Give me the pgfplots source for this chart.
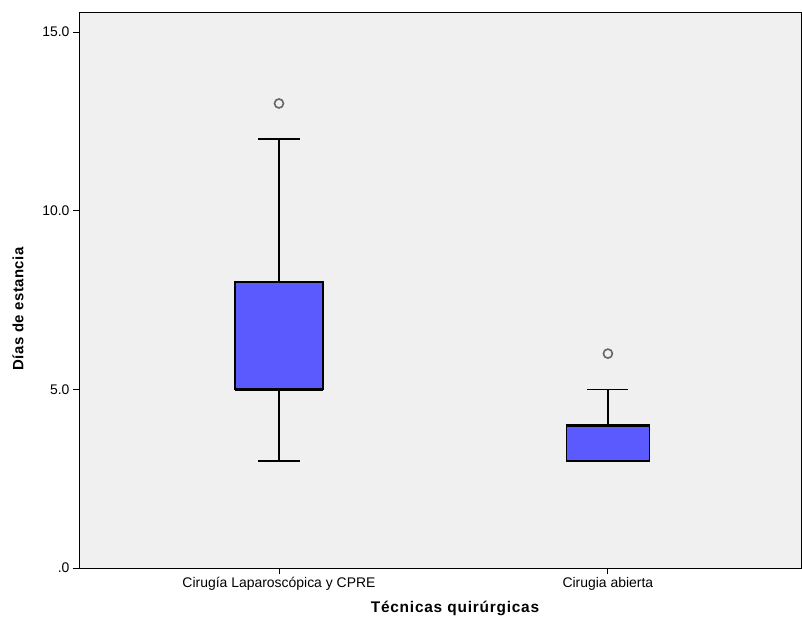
\documentclass[border=0pt]{standalone}
\usepackage{fontspec}
\setmainfont{Liberation Sans}
\newfontfamily\xlabelfont[LetterSpace=5]{Liberation Sans}
\newfontfamily\ylabelfont[LetterSpace=3]{Liberation Sans}
\usepackage{pgfplots}
\pgfplotsset{compat=1.18}
\usepgfplotslibrary{statistics}
\definecolor{boxfill}{RGB}{90,90,255}
\definecolor{plotbg}{RGB}{240,240,240}
\begin{document}
\begin{tikzpicture}
\begin{axis}[
  scale only axis,
  width=722bp, height=556bp,
  xmin=0.392, xmax=2.587,
  ymin=0, ymax=15.56,
  axis background/.style={fill=plotbg},
  axis line style={line width=0.9bp},
  xtick={1,2},
  xticklabels={Cirugía Laparoscópica y CPRE, Cirugia abierta},
  ytick={0,5,10,15},
  yticklabels={.0,5.0,10.0,15.0},
  tick align=outside,
  major tick length=6bp,
  tick style={line width=0.9bp, black},
  xtick pos=bottom, ytick pos=left,
  tick label style={font=\fontsize{14}{16}\selectfont},
  /pgf/number format/assume math mode=true,
  xlabel={Técnicas quirúrgicas},
  ylabel={Días de estancia},
  xlabel style={font=\xlabelfont\fontsize{15.5}{18}\selectfont\bfseries,
    at={(axis description cs:0.5,0)}, anchor=center,
    yshift=-40bp, xshift=15bp},
  ylabel style={font=\ylabelfont\fontsize{15}{18}\selectfont\bfseries,
    at={(axis description cs:0,0.5)}, anchor=center,
    yshift=61bp, xshift=-19bp},
  boxplot/draw direction=y,
  boxplot/every median/.style={line width=3bp},
]
% Cirugía laparoscópica y CPRE
\addplot[
  boxplot prepared={
    lower whisker=3, lower quartile=5, median=5,
    upper quartile=8, upper whisker=12,
    draw position=1, box extend=0.267, whisker extend=0.125},
  draw=black, fill=boxfill, line width=1.6bp,
  mark=*, mark size=4.5bp,
  mark options={fill=plotbg, draw=black!60, line width=1.6bp},
] coordinates {(1,13)};
% Cirugía abierta
\addplot[
  boxplot prepared={
    lower whisker=3, lower quartile=3, median=4,
    upper quartile=4, upper whisker=5,
    draw position=2, box extend=0.253, whisker extend=0.125},
  draw=black, fill=boxfill, line width=1.6bp,
  mark=*, mark size=4.5bp,
  mark options={fill=plotbg, draw=black!60, line width=1.6bp},
] coordinates {(2,6)};
\end{axis}
\path ([shift={(-79bp,-60bp)}]current axis.south west)
  rectangle ([shift={(1bp,12bp)}]current axis.north east);
\end{tikzpicture}
\end{document}
